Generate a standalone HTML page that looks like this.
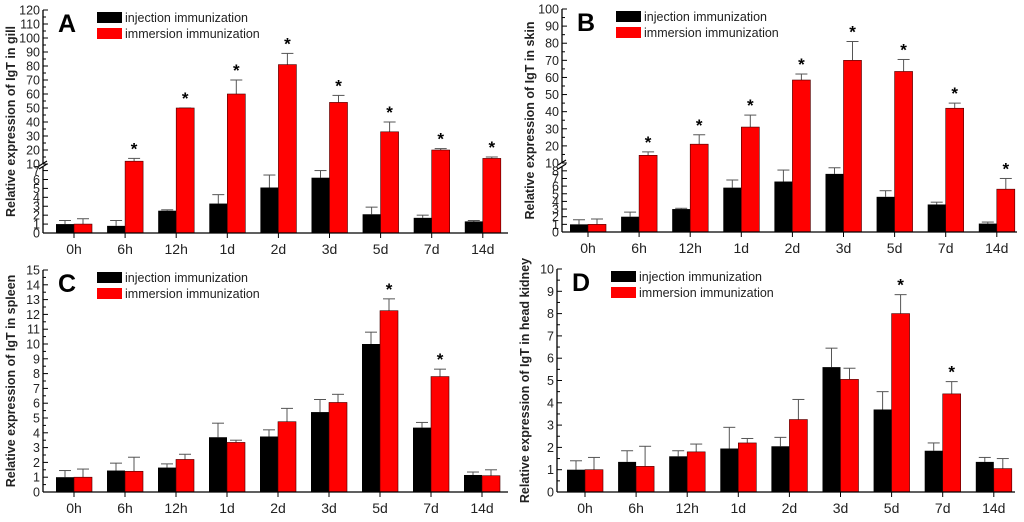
<!DOCTYPE html>
<html><head><meta charset="utf-8"><style>
html,body{margin:0;padding:0;background:#fff}
svg{display:block;font-family:"Liberation Sans",Arial,sans-serif}
</style></head><body>
<svg id="fig" width="1024" height="522" viewBox="0 0 1024 522"></svg>
<script>
const categories=["0h","6h","12h","1d","2d","3d","5d","7d","14d"];
const gillInj=[1.0,0.8,2.5,3.3,5.1,6.2,2.1,1.7,1.3];
const gillInjErr=[1.4,1.4,2.6,4.3,6.5,7.0,2.9,2.0,1.4];
const gillImm=[1.0,12,50,60,81,54,33,20,14];
const gillImmErr=[1.6,14,50,70,89,59,40,21,15];
const gillStar=[0,1,1,1,1,1,1,1,1];
const skinInj=[1.0,2.0,3.0,5.8,6.6,7.6,4.6,3.6,1.1];
const skinInjErr=[1.6,2.6,3.1,6.8,8.1,8.4,5.4,3.9,1.3];
const skinImm=[1.0,14.5,21,31,58.5,70,63.5,42,5.6];
const skinImmErr=[1.7,16.5,26.5,38,62,81,70.5,45,7.0];
const skinStar=[0,1,1,1,1,1,1,1,1];
const spleenInj=[1.0,1.45,1.65,3.7,3.75,5.4,10.0,4.35,1.15];
const spleenInjErr=[1.45,1.95,1.9,4.65,4.2,6.25,10.8,4.7,1.35];
const spleenImm=[1.0,1.4,2.2,3.35,4.75,6.05,12.25,7.8,1.1];
const spleenImmErr=[1.55,2.35,2.55,3.5,5.65,6.6,13.05,8.3,1.5];
const spleenStar=[0,0,0,0,0,0,1,1,0];
const kidneyInj=[1.0,1.35,1.6,1.95,2.05,5.6,3.7,1.85,1.35];
const kidneyInjErr=[1.4,1.85,1.85,2.9,2.45,6.45,4.5,2.2,1.55];
const kidneyImm=[1.0,1.15,1.8,2.2,3.25,5.05,8.0,4.4,1.05];
const kidneyImmErr=[1.55,2.05,2.15,2.4,4.15,5.55,8.85,4.95,1.5];
const kidneyStar=[0,0,0,0,0,0,1,1,0];
const gillTicksLow=[0,1,2,3,4,5,6,7];
const gillTicksHigh=[10,20,30,40,50,60,70,80,90,100,110,120];
const skinTicksLow=[0,1,2,3,4,5,6,7,8];
const skinTicksHigh=[10,20,30,40,50,60,70,80,90,100];
const spleenTicks=[0,1,2,3,4,5,6,7,8,9,10,11,12,13,14,15];
const kidneyTicks=[0,1,2,3,4,5,6,7,8,9,10];

const svg=document.getElementById('fig');
const NS='http://www.w3.org/2000/svg';
function mk(tag,attrs,parent,text){const e=document.createElementNS(NS,tag);for(const k in attrs)e.setAttribute(k,attrs[k]);if(text!==undefined)e.textContent=text;(parent||svg).appendChild(e);return e;}

function panel(cfg){
  const g=mk('g',{});
  
  
  function y(v){
    if(!cfg.brk) return cfg.y0+(cfg.yTop-cfg.y0)*(v/cfg.max);
    if(v<=cfg.lowMax) return cfg.y0+(cfg.lowTopY-cfg.y0)*(v/cfg.lowMax);
    return cfg.upY0+(cfg.yTop-cfg.upY0)*((v-cfg.upMin)/(cfg.max-cfg.upMin));
  }
  function x(i){return cfg.c0+i*cfg.step;}
  const bw=18;
  cfg.inj.forEach((v,i)=>{
    const xx=x(i)-bw;
    const eb=mk('line',{x1:xx+bw/2,x2:xx+bw/2,y1:y(v),y2:y(cfg.injErr[i]),stroke:'#555','stroke-width':1},g);
    
    
    const cap=mk('line',{x1:xx+bw/2-6,x2:xx+bw/2+6,y1:y(cfg.injErr[i]),y2:y(cfg.injErr[i]),stroke:'#555','stroke-width':1},g);
    
    
    const r=mk('rect',{x:xx,y:y(v),width:bw,height:cfg.y0-y(v),fill:'#000'},g);
    
    
  });
  cfg.imm.forEach((v,i)=>{
    const xx=x(i);
    const eb=mk('line',{x1:xx+bw/2,x2:xx+bw/2,y1:y(v),y2:y(cfg.immErr[i]),stroke:'#555','stroke-width':1},g);
    
    
    const cap=mk('line',{x1:xx+bw/2-6,x2:xx+bw/2+6,y1:y(cfg.immErr[i]),y2:y(cfg.immErr[i]),stroke:'#555','stroke-width':1},g);
    
    
    const r=mk('rect',{x:xx,y:y(v),width:bw,height:cfg.y0-y(v),fill:'#f00',stroke:'#400','stroke-width':0.6},g);
    
    
    if(cfg.star[i]){
      const s=mk('text',{x:xx+bw/2,y:y(cfg.immErr[i])-4,'text-anchor':'middle','font-size':17,'font-weight':'bold'},g,'*');
      
      
    }
  });
  if(cfg.brk){
    const gap=mk('rect',{x:cfg.ax+1,y:cfg.lowTopY-1,width:cfg.right-cfg.ax,height:cfg.upY0-cfg.lowTopY+2,fill:'#fff'},g);
    
    
  }
  const ya=mk('g',{},g);
  
  
  if(cfg.brk){
    mk('line',{x1:cfg.ax,x2:cfg.ax,y1:cfg.y0,y2:cfg.lowTopY,stroke:'#000','stroke-width':1.3},ya);
    mk('line',{x1:cfg.ax,x2:cfg.ax,y1:cfg.upY0,y2:cfg.yTop,stroke:'#000','stroke-width':1.3},ya);
    mk('path',{d:`M${cfg.ax-4} ${cfg.lowTopY+2} L${cfg.ax+4} ${cfg.lowTopY-3} M${cfg.ax-4} ${cfg.upY0+2} L${cfg.ax+4} ${cfg.upY0-3}`,stroke:'#000','stroke-width':1.2,fill:'none'},ya);
  } else {
    mk('line',{x1:cfg.ax,x2:cfg.ax,y1:cfg.y0,y2:cfg.yTop,stroke:'#000','stroke-width':1.3},ya);
  }
  const ticks=cfg.brk?cfg.ticksLow.concat(cfg.ticksHigh):cfg.ticks;
  ticks.forEach(t=>{
    mk('line',{x1:cfg.ax,x2:cfg.ax+5,y1:y(t),y2:y(t),stroke:'#000','stroke-width':1},ya);
    const tl=mk('text',{x:cfg.ax-3,y:y(t)+4.5,'text-anchor':'end','font-size':12.5,fill:'#222'},ya,String(t));
    
    
  });
  if(!cfg.brk){
    for(let k=0;k<ticks.length-1;k++){const m=(ticks[k]+ticks[k+1])/2;mk('line',{x1:cfg.ax,x2:cfg.ax+3,y1:y(m),y2:y(m),stroke:'#000','stroke-width':1},ya);}
  } else {
    for(let k=0;k<cfg.ticksHigh.length-1;k++){const m=(cfg.ticksHigh[k]+cfg.ticksHigh[k+1])/2;mk('line',{x1:cfg.ax,x2:cfg.ax+3,y1:y(m),y2:y(m),stroke:'#000','stroke-width':1},ya);}
  }
  const xa=mk('g',{},g);
  
  
  mk('line',{x1:cfg.ax,x2:cfg.right,y1:cfg.y0,y2:cfg.y0,stroke:'#000','stroke-width':1.3},xa);
  categories.forEach((c,i)=>{
    mk('line',{x1:x(i),x2:x(i),y1:cfg.y0,y2:cfg.y0+5,stroke:'#000','stroke-width':1},xa);
    const tl=mk('text',{x:x(i),y:cfg.y0+21,'text-anchor':'middle','font-size':14,fill:'#222'},xa,c);
    
    
  });
  const yt=mk('text',{x:0,y:0,transform:`translate(${cfg.ax-28},${(cfg.y0+cfg.yTop)/2}) rotate(-90)`,'text-anchor':'middle','font-size':12.5,'font-weight':'bold',fill:'#222'},g,cfg.title);
  
  
  const L=mk('text',{x:cfg.ax+15,y:cfg.yTop+22,'font-size':25,'font-weight':'bold'},g,cfg.letter);
  
  
  const lg=mk('g',{},g);
  
  
  const lx=cfg.ax+54, ly=cfg.yTop+2;
  const e1=mk('rect',{x:lx,y:ly,width:25,height:11,fill:'#000'},lg);
  
  
  mk('text',{x:lx+28,y:ly+10,'font-size':12.5,fill:'#222'},lg,'injection immunization');
  const e2=mk('rect',{x:lx,y:ly+16,width:25,height:11,fill:'#f00'},lg);
  
  
  mk('text',{x:lx+28,y:ly+26,'font-size':12.5,fill:'#222'},lg,'immersion immunization');
}

panel({letter:'A',title:'Relative expression of IgT in gill',ax:43,right:508,c0:74,step:51.1,y0:233,yTop:10,brk:true,lowMax:7.4,lowTopY:167,upMin:10,upY0:164,max:120,
  ticksLow:gillTicksLow,ticksHigh:gillTicksHigh,inj:gillInj,injErr:gillInjErr,imm:gillImm,immErr:gillImmErr,star:gillStar});
panel({letter:'B',title:'Relative expression of IgT in skin',ax:562,right:1017,c0:588,step:51.1,y0:232,yTop:9,brk:true,lowMax:8.5,lowTopY:167,upMin:10,upY0:163,max:100,
  ticksLow:skinTicksLow,ticksHigh:skinTicksHigh,inj:skinInj,injErr:skinInjErr,imm:skinImm,immErr:skinImmErr,star:skinStar});
panel({letter:'C',title:'Relative expression of IgT in spleen',ax:43,right:508,c0:74,step:51,y0:492,yTop:270,brk:false,max:15,
  ticks:spleenTicks,inj:spleenInj,injErr:spleenInjErr,imm:spleenImm,immErr:spleenImmErr,star:spleenStar});
panel({letter:'D',title:'Relative expression of IgT in head kidney',ax:557,right:1015,c0:585,step:51.1,y0:492,yTop:269,brk:false,max:10,
  ticks:kidneyTicks,inj:kidneyInj,injErr:kidneyInjErr,imm:kidneyImm,immErr:kidneyImmErr,star:kidneyStar});
</script>
</body></html>
